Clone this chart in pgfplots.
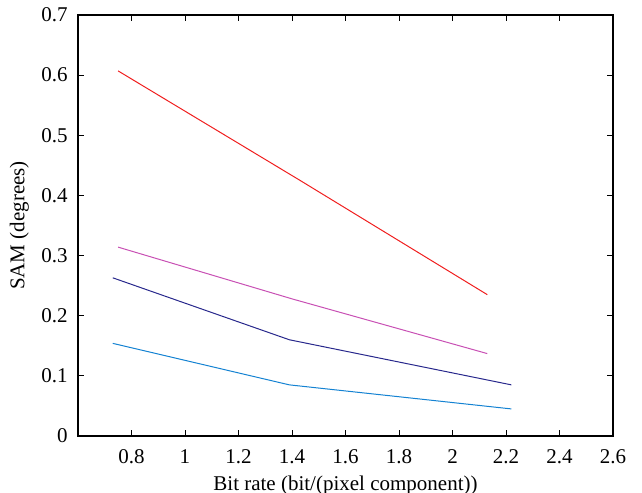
\documentclass[border=0pt]{standalone}
\usepackage{pgfplots}
\pgfplotsset{compat=1.18}
\usepackage{fontspec}
\setmainfont{Liberation Serif}

\definecolor{cred}{RGB}{240,30,30}
\definecolor{cmag}{RGB}{200,80,180}
\definecolor{cnavy}{RGB}{40,40,140}
\definecolor{cblue}{RGB}{20,130,210}

\begin{document}
\fontsize{10.5}{12}\selectfont
\begin{tikzpicture}
\begin{axis}[
    width=267.5pt, height=210.5pt,
    scale only axis,
    xmin=0.6, xmax=2.6,
    ymin=0, ymax=0.7,
    xtick={0.8,1,1.2,1.4,1.6,1.8,2,2.2,2.4,2.6},
    ytick={0,0.1,0.2,0.3,0.4,0.5,0.6,0.7},
    /pgf/number format/assume math mode=true,
    tick align=inside,
    major tick length=3pt,
    xlabel={Bit rate (bit/(pixel component))},
    ylabel={SAM (degrees)},
    axis line style={line width=0.6pt},
    every tick/.style={black, line width=0.5pt},
    tick label style={font=\fontsize{10.5}{12}\selectfont},
    label style={font=\fontsize{10.5}{12}\selectfont},
    xticklabel style={yshift=-3pt},
    yticklabel style={xshift=-1.5pt},
    xlabel style={yshift=1pt},
    ylabel style={yshift=-1pt},
]
\addplot[cred, line width=0.5pt] coordinates {(0.75,0.607)(1.43,0.425)(2.13,0.235)};
\addplot[cmag, line width=0.5pt] coordinates {(0.75,0.314)(1.40,0.228)(2.13,0.137)};
\addplot[cnavy, line width=0.5pt] coordinates {(0.73,0.263)(1.39,0.160)(2.22,0.085)};
\addplot[cblue, line width=0.5pt] coordinates {(0.73,0.154)(1.39,0.085)(2.22,0.045)};
\end{axis}
\pgfresetboundingbox
\path[use as bounding box] ([shift={(-39pt,-28.5pt)}]current axis.south west) rectangle ([shift={(14.5pt,7.5pt)}]current axis.north east);
\end{tikzpicture}
\end{document}
